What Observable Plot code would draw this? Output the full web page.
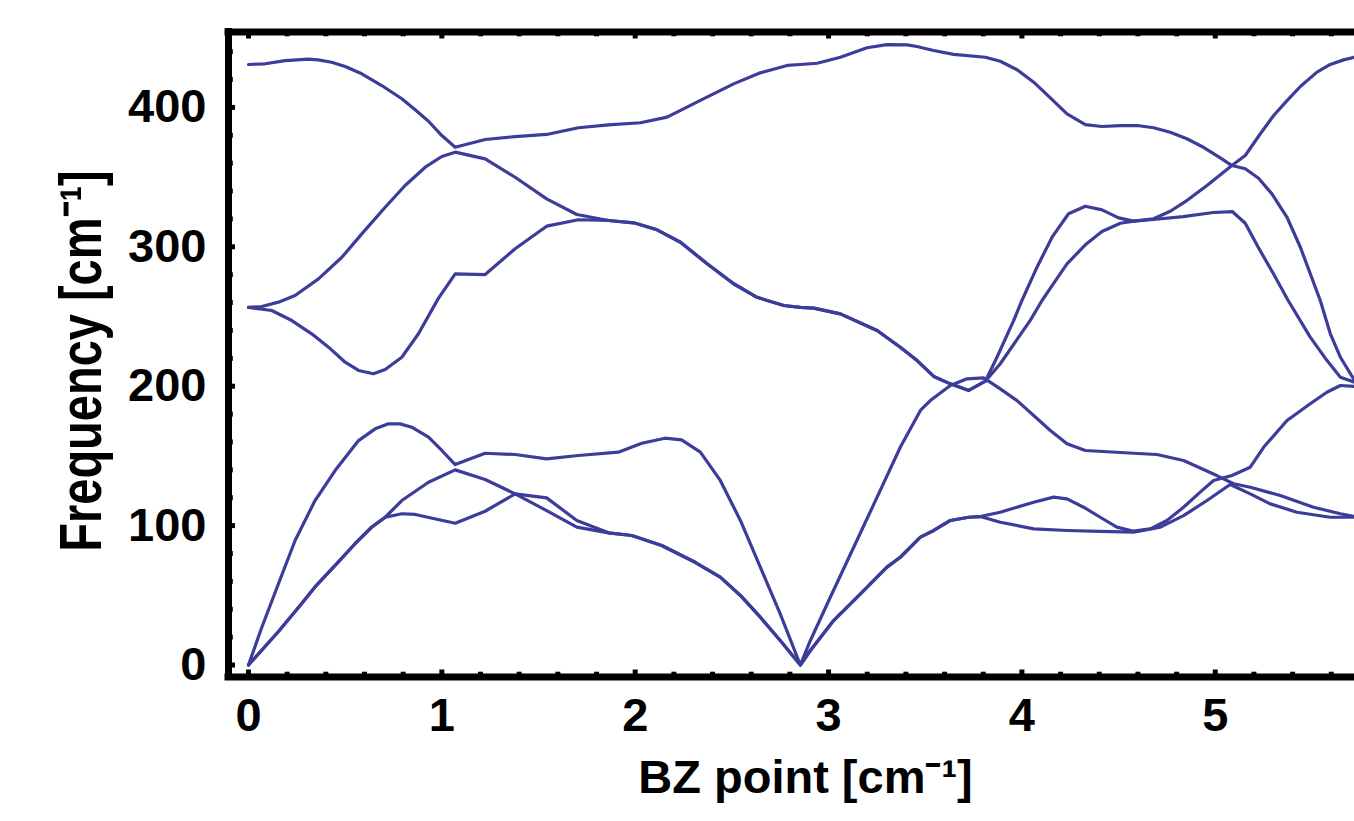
<!DOCTYPE html>
<html>
<head>
<meta charset="utf-8">
<script src="https://cdn.jsdelivr.net/npm/d3@7"></script>
<script src="https://cdn.jsdelivr.net/npm/@observablehq/plot@0.6"></script>
<style>
html, body { margin: 0; padding: 0; background: #fff; overflow: hidden; }
</style>
</head>
<body>
<div id="chart"></div>
<script>
// Phonon dispersion branches: [BZ point, frequency (cm^-1)]
const band1 = [[0,430.8],[0.086,431.3],[0.19,433.6],[0.31,434.6],[0.36,434.1],[0.43,432.4],[0.5,429.3],[0.586,424.1],[0.689,415.7],[0.793,406.2],[0.862,398.3],[0.931,390.1],[1.0,379.8],[1.069,371.4],[1.224,377.0],[1.379,379.1],[1.542,380.6],[1.706,385.4],[1.862,387.5],[2.027,389.0],[2.165,393.0],[2.337,405.0],[2.509,416.9],[2.647,424.8],[2.786,430.1],[2.854,430.8],[2.941,431.7],[3.061,436.0],[3.199,442.8],[3.302,445.1],[3.406,444.9],[3.457,443.7],[3.543,440.8],[3.647,438.0],[3.811,436.0],[3.888,433.1],[3.975,427.0],[4.061,418.1],[4.147,406.9],[4.233,395.4],[4.328,387.7],[4.414,386.3],[4.509,387.0],[4.595,387.0],[4.681,385.4],[4.767,382.2],[4.853,377.5],[4.939,371.4],[5.026,363.8],[5.086,358.3],[5.155,356.0],[5.224,349.2],[5.293,338.0],[5.371,321.2],[5.44,299.7],[5.543,261.5],[5.595,237.6],[5.647,220.8],[5.72,204.1]];

const band2 = [[0,256.5],[0.069,257.2],[0.155,260.3],[0.241,265.1],[0.362,277.0],[0.483,292.5],[0.586,309.3],[0.707,328.4],[0.81,344.0],[0.914,357.1],[1.0,364.8],[1.069,367.9],[1.224,363.1],[1.379,349.9],[1.542,334.4],[1.698,323.2],[1.862,318.9],[1.992,317.2],[2.113,312.2],[2.234,303.3],[2.372,287.8],[2.509,273.5],[2.63,263.8],[2.768,257.9],[2.854,256.5],[2.923,256.0],[3.061,251.9],[3.251,240.0],[3.371,228.0],[3.458,218.4],[3.544,207.0],[3.63,201.7],[3.725,197.0],[3.811,203.6],[3.871,220.8],[3.957,247.1],[4.0,261.5],[4.078,285.4],[4.156,306.9],[4.241,323.7],[4.328,329.1],[4.414,326.5],[4.5,320.8],[4.578,318.4],[4.679,319.6],[4.834,321.7],[4.99,324.6],[5.088,325.3],[5.155,316.9],[5.222,299.7],[5.3,280.8],[5.377,261.5],[5.491,235.2],[5.578,218.4],[5.647,206.5],[5.72,202.9]];

const band3 = [[0,256.5],[0.12,254.3],[0.224,247.1],[0.327,237.6],[0.414,228.0],[0.5,217.2],[0.569,211.3],[0.646,208.9],[0.707,212.0],[0.793,220.8],[0.879,237.6],[0.982,263.0],[1.069,280.6],[1.224,280.1],[1.379,298.6],[1.542,314.8],[1.706,319.4],[1.862,318.9],[1.992,317.2],[2.113,312.2],[2.234,303.3],[2.372,287.8],[2.509,273.5],[2.63,263.8],[2.768,257.9],[2.854,256.5],[2.923,256.0],[3.061,251.9],[3.251,240.0],[3.371,228.0],[3.458,218.4],[3.544,207.0],[3.63,201.7],[3.725,197.0],[3.811,203.6],[3.888,216.1],[4.043,247.2],[4.104,261.5],[4.156,272.2],[4.233,287.8],[4.328,301.4],[4.414,311.0],[4.509,316.9],[4.578,318.4],[4.681,320.1],[4.767,325.5],[4.853,333.2],[4.957,344.0],[5.086,358.3],[5.155,365.5],[5.233,381.1],[5.302,394.2],[5.371,404.9],[5.44,415.0],[5.526,425.3],[5.595,430.8],[5.663,434.1],[5.72,436.0]];

const band4 = [[0,0],[0.069,27.1],[0.155,58.3],[0.241,89.3],[0.344,118.0],[0.448,139.5],[0.569,161.0],[0.655,169.4],[0.724,173.0],[0.784,173.0],[0.844,170.6],[0.931,163.4],[1.0,153.9],[1.069,143.8],[1.224,151.9],[1.379,151.0],[1.542,147.9],[1.706,150.3],[1.913,152.7],[2.034,159.1],[2.154,162.7],[2.24,161.5],[2.337,152.7],[2.44,132.4],[2.544,103.7],[2.647,70.2],[2.75,36.7],[2.854,0],[2.906,17.6],[3.009,48.6],[3.13,84.5],[3.251,120.4],[3.371,156.2],[3.475,182.6],[3.526,189.7],[3.63,200.5],[3.716,205.3],[3.802,206.0],[3.888,198.1],[3.975,189.7],[4.147,168.2],[4.233,158.7],[4.328,153.9],[4.578,151.9],[4.698,151.0],[4.836,146.7],[5.008,135.9],[5.095,130.0],[5.181,127.5],[5.336,121.6],[5.508,113.2],[5.647,108.5],[5.72,106.5]];

const band5 = [[0,0],[0.155,24.0],[0.269,43.0],[0.344,56.0],[0.465,74.0],[0.551,87.0],[0.638,99.0],[0.707,106.0],[0.793,118.0],[0.931,131.1],[1.069,140.0],[1.224,133.1],[1.379,122.8],[1.542,110.8],[1.698,98.9],[1.862,94.8],[1.982,92.9],[2.137,85.7],[2.31,73.7],[2.44,63.0],[2.544,49.9],[2.647,34.3],[2.75,17.6],[2.854,0],[2.906,10.4],[3.026,31.9],[3.165,51.1],[3.302,70.2],[3.371,77.3],[3.475,91.7],[3.544,96.5],[3.63,103.7],[3.725,106.0],[3.785,106.5],[3.888,109.6],[4.061,116.8],[4.164,120.4],[4.233,119.2],[4.319,113.2],[4.405,106.0],[4.491,98.9],[4.578,96.0],[4.664,97.7],[4.75,103.7],[4.836,113.2],[4.922,124.0],[4.991,132.4],[5.086,135.9],[5.181,141.9],[5.25,156.2],[5.371,175.4],[5.491,187.4],[5.577,195.7],[5.647,200.5],[5.72,199.8]];

const band6 = [[0,0],[0.155,24.0],[0.269,43.0],[0.344,56.0],[0.465,74.0],[0.551,87.0],[0.638,99.0],[0.707,106.0],[0.793,108.5],[0.862,108.0],[1.069,101.7],[1.224,110.3],[1.379,122.8],[1.542,119.9],[1.698,103.7],[1.862,94.8],[1.982,92.9],[2.137,85.7],[2.31,73.7],[2.44,63.0],[2.544,49.9],[2.647,34.3],[2.75,17.6],[2.854,0],[2.906,10.4],[3.026,31.9],[3.165,51.1],[3.302,70.2],[3.371,77.3],[3.475,91.7],[3.544,96.5],[3.63,103.7],[3.725,106.0],[3.785,106.5],[3.888,102.4],[4.061,97.7],[4.233,96.5],[4.405,95.8],[4.578,95.3],[4.716,98.9],[4.836,107.2],[4.957,118.0],[5.077,129.5],[5.181,122.8],[5.284,115.6],[5.422,109.6],[5.594,106.0],[5.72,106.0]];

const bands = [band1, band2, band3, band4, band5, band6];

// Axis ticks and labels
const xMajor = [0, 1, 2, 3, 4, 5];
const xMinor = [0.2,0.4,0.6,0.8,1.2,1.4,1.6,1.8,2.2,2.4,2.6,2.8,3.2,3.4,3.6,3.8,4.2,4.4,4.6,4.8,5.2,5.4,5.6];
const yMajor = [0, 100, 200, 300, 400];
const yMinor = [20,40,60,80,120,140,160,180,220,240,260,280,320,340,360,380,420,440];
const xDomain = [-0.1034, 5.72];
const yDomain = [-8.6, 454.1];
const xTitle = "BZ point [cm\u207B\u00B9]";
const yTitle = "Frequency [cm\u207B\u00B9]";

// Layout
const W = 1354, H = 821;
const mL = 228, mR = 0, mT = 31.5, mB = 144.5;
const frameW = W - mL - mR, frameH = H - mT - mB;
const lineColor = "#3c3c9a";
const font = "'Liberation Sans', Arial, Helvetica, sans-serif";

const marks = [];
bands.forEach((b) => {
  marks.push(Plot.line(b, {x: d => d[0], y: d => d[1], stroke: lineColor, strokeWidth: 3.2, clip: true, strokeLinejoin: "round"}));
});

// tick marks (inward) on bottom, top and left
const majorLen = 7, minorLen = 4.8;
marks.push(Plot.ruleX(xMajor, {x: d => d, insetTop: frameH - majorLen, stroke: "black", strokeWidth: 5}));
marks.push(Plot.ruleX(xMajor, {x: d => d, insetBottom: frameH - majorLen, stroke: "black", strokeWidth: 5}));
marks.push(Plot.ruleX(xMinor, {x: d => d, insetTop: frameH - minorLen, stroke: "black", strokeWidth: 5}));
marks.push(Plot.ruleX(xMinor, {x: d => d, insetBottom: frameH - minorLen, stroke: "black", strokeWidth: 5}));
marks.push(Plot.ruleY(yMajor, {y: d => d, insetRight: frameW - majorLen, stroke: "black", strokeWidth: 5}));
marks.push(Plot.ruleY(yMinor, {y: d => d, insetRight: frameW - minorLen, stroke: "black", strokeWidth: 5}));

// frame: left, top, bottom
marks.push(Plot.ruleY([yDomain[0], yDomain[1]], {y: d => d, stroke: "black", strokeWidth: 7, strokeLinecap: "square"}));
marks.push(Plot.ruleX([xDomain[0]], {x: d => d, stroke: "black", strokeWidth: 7, strokeLinecap: "square"}));

// axes
marks.push(Plot.axisX({ticks: xMajor, tickFormat: d => String(d), anchor: "bottom", tickSize: 0, tickPadding: 21, fontSize: 47, fontWeight: "bold", fontFamily: font, label: null}));
marks.push(Plot.axisY({ticks: yMajor, tickFormat: d => String(d), anchor: "left", tickSize: 0, tickPadding: 22, fontSize: 47, fontWeight: "bold", fontFamily: font, label: null}));

// axis titles
marks.push(Plot.text([xTitle], {text: d => d, frameAnchor: "bottom", dx: 14, dy: 116, fontSize: 47, fontWeight: "bold", fontFamily: font, fill: "black", textAnchor: "middle"}));
marks.push(Plot.text([yTitle], {text: d => d, frameAnchor: "left", rotate: -90, dx: -146, dy: 6.5, fontSize: 47, fontWeight: "bold", fontFamily: font, fill: "black", textAnchor: "middle"}));

const chart = Plot.plot({
  width: W,
  height: H,
  marginLeft: mL,
  marginRight: mR,
  marginTop: mT,
  marginBottom: mB,
  x: {domain: xDomain, label: null},
  y: {domain: yDomain, label: null},
  style: {background: "white", fontFamily: font, fontWeight: "bold", fontSize: "47px", overflow: "visible"},
  marks
});
// the original y title glyphs are drawn taller across the reading direction
d3.select(chart).selectAll("text").filter(function () { return this.textContent === yTitle; })
  .attr("transform", function () { return d3.select(this).attr("transform") + " scale(1,1.25)"; });
document.getElementById("chart").appendChild(chart);
</script>
</body>
</html>
